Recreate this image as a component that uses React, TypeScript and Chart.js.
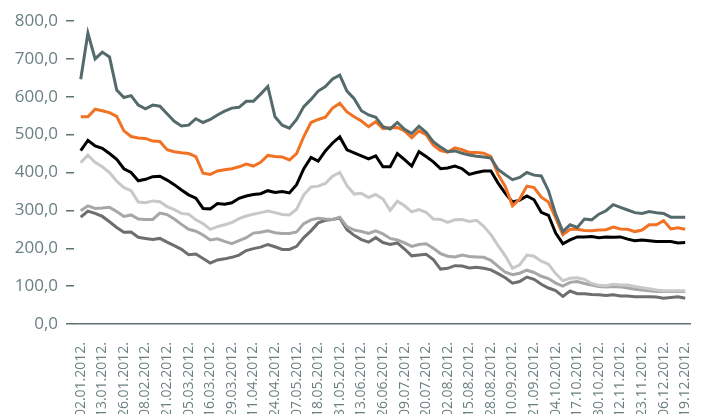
import React, { useEffect, useRef } from "react";
import { Chart, registerables } from "chart.js";

Chart.register(...registerables);

// Tick labels every 9 business days
const tickLabels = [
  "02.01.2012.", "13.01.2012.", "26.01.2012.", "08.02.2012.", "21.02.2012.",
  "05.03.2012.", "16.03.2012.", "29.03.2012.", "11.04.2012.", "24.04.2012.",
  "07.05.2012.", "18.05.2012.", "31.05.2012.", "13.06.2012.", "26.06.2012.",
  "09.07.2012.", "20.07.2012.", "02.08.2012.", "15.08.2012.", "28.08.2012.",
  "10.09.2012.", "21.09.2012.", "04.10.2012.", "17.10.2012.", "30.10.2012.",
  "12.11.2012.", "23.11.2012.", "06.12.2012.", "19.12.2012.",
];
const DAYS_PER_TICK = 9;
// One sample every 3 business days
const DAYS_PER_SAMPLE = 3;

const seriesSlate = [
  646, 768, 700, 718, 705, 618, 598, 603, 578, 568,
  578, 575, 555, 535, 523, 525, 542, 532, 540, 552,
  562, 570, 572, 588, 588, 607, 627, 547, 525, 517,
  540, 574, 593, 615, 627, 647, 657, 615, 595, 563,
  552, 546, 521, 515, 532, 514, 503, 522, 506, 481,
  467, 455, 457, 451, 446, 443, 441, 438, 408, 394,
  381, 387, 400, 393, 391, 352, 290, 244, 262, 255,
  277, 275, 290, 299, 315, 308, 301, 294, 292, 297,
  294, 292, 282, 282, 282,
];
const seriesOrange = [
  547, 547, 567, 563, 558, 548, 510, 495, 491, 490,
  483, 482, 460, 455, 452, 450, 442, 398, 395, 404,
  407, 410, 415, 422, 417, 427, 445, 442, 441, 433,
  450, 495, 532, 540, 546, 570, 583, 560, 547, 536,
  521, 534, 516, 518, 519, 510, 492, 510, 500, 472,
  458, 454, 465, 460, 453, 453, 451, 442, 395, 363,
  312, 330, 364, 360, 335, 322, 280, 236, 250, 250,
  247, 246, 248, 249, 256, 251, 250, 244, 248, 262,
  262, 273, 251, 254, 250,
];
const seriesBlack = [
  458, 485, 470, 464, 450, 435, 410, 400, 378, 382,
  389, 390, 380, 368, 354, 341, 332, 305, 304, 318,
  316, 320, 332, 338, 342, 344, 352, 347, 350, 346,
  368, 410, 440, 430, 457, 478, 494, 460, 452, 444,
  436, 444, 415, 415, 450, 434, 417, 455, 442, 428,
  410, 412, 417, 410, 395, 400, 404, 404, 372, 345,
  322, 327, 338, 328, 295, 287, 240, 212, 222, 230,
  230, 231, 228, 230, 229, 230, 224, 220, 222, 220,
  218, 218, 218, 214, 215,
];
const seriesLightGray = [
  426, 446, 427, 415, 400, 377, 360, 352, 322, 320,
  325, 323, 310, 302, 292, 290, 275, 265, 250, 257,
  262, 268, 278, 285, 290, 294, 298, 294, 289, 288,
  303, 341, 362, 364, 371, 390, 400, 365, 343, 345,
  334, 342, 330, 300, 324, 312, 296, 302, 295, 277,
  276, 268, 275, 276, 271, 274, 258, 236, 207, 180,
  147, 156, 182, 179, 166, 158, 133, 114, 121, 122,
  118, 107, 102, 101, 105, 103, 103, 99, 96, 93,
  90, 88, 88, 88, 88,
];
const seriesMidGray = [
  299, 312, 305, 306, 308, 297, 284, 288, 277, 276,
  276, 293, 289, 277, 263, 250, 245, 235, 222, 225,
  218, 212, 220, 228, 240, 242, 246, 241, 239, 239,
  243, 265, 275, 279, 277, 276, 282, 257, 248, 244,
  239, 246, 238, 226, 222, 214, 205, 210, 212, 200,
  186, 179, 177, 182, 178, 177, 176, 168, 152, 137,
  130, 134, 142, 136, 126, 120, 108, 100, 110, 112,
  107, 103, 99, 98, 99, 98, 95, 92, 90, 88,
  86, 86, 86, 86, 86,
];
const seriesDarkGray = [
  282, 298, 292, 284, 270, 255, 242, 243, 229, 226,
  223, 226, 216, 207, 197, 183, 185, 173, 161, 169,
  172, 176, 182, 194, 199, 203, 210, 204, 197, 197,
  205, 228, 246, 267, 274, 276, 280, 249, 234, 223,
  216, 228, 215, 210, 214, 198, 180, 182, 184, 170,
  145, 147, 154, 153, 148, 150, 147, 143, 133, 122,
  108, 112, 124, 118, 105, 95, 88, 73, 87, 80,
  80, 78, 77, 75, 77, 74, 74, 72, 72, 72,
  71, 68, 70, 72, 68,
];

const AXIS_COLOR = "#5e7374";
const LABEL_COLOR = "#6a7f80";

const toPoints = (values: number[]) =>
  values.map((v, i) => ({ x: i * DAYS_PER_SAMPLE, y: v }));

export default function App() {
  const canvasRef = useRef<HTMLCanvasElement | null>(null);

  useEffect(() => {
    if (!canvasRef.current) return;
    const mk = (data: number[], color: string) => ({
      data: toPoints(data),
      borderColor: color,
      backgroundColor: color,
      borderWidth: 3,
      pointRadius: 0,
      pointHoverRadius: 0,
      tension: 0,
      fill: false,
    });
    const chart = new Chart(canvasRef.current, {
      type: "line",
      data: {
        datasets: [
          mk(seriesSlate, "#546a6b"),
          mk(seriesOrange, "#f27224"),
          mk(seriesBlack, "#000000"),
          mk(seriesLightGray, "#c8c8c8"),
          mk(seriesMidGray, "#a6a7a9"),
          mk(seriesDarkGray, "#6d6e70"),
        ],
      },
      options: {
        responsive: false,
        animation: false,
        layout: { padding: { top: 21, left: 0, right: 1, bottom: 0 } },
        plugins: {
          legend: { display: false },
          tooltip: { enabled: false },
        },
        scales: {
          x: {
            type: "linear",
            min: -2.8,
            max: 254.4,
            grid: { display: false },
            border: { display: true, color: AXIS_COLOR, width: 1.5 },
            afterBuildTicks: (scale: any) => {
              scale.ticks = tickLabels.map((_, i) => ({ value: i * DAYS_PER_TICK }));
            },
            afterFit: (scale: any) => {
              scale.height = 90;
            },
            ticks: {
              autoSkip: false,
              maxRotation: 90,
              minRotation: 90,
              padding: 10,
              color: LABEL_COLOR,
              font: { family: "'Open Sans', sans-serif", size: 14 },
              callback: (value: any) => {
                const idx = Math.round(Number(value) / DAYS_PER_TICK);
                return tickLabels[idx] ?? "";
              },
            },
          },
          y: {
            min: 0,
            max: 800,
            grid: {
              display: true,
              drawOnChartArea: false,
              drawTicks: true,
              tickLength: 8,
              color: AXIS_COLOR,
              lineWidth: 1.5,
            },
            border: { display: false },
            afterFit: (scale: any) => {
              scale.width = 74;
            },
            ticks: {
              stepSize: 100,
              padding: 8,
              color: LABEL_COLOR,
              font: { family: "'Open Sans', sans-serif", size: 17 },
              callback: (value: any) => Number(value).toFixed(1).replace(".", ","),
            },
          },
        },
      },
    } as any);
    return () => chart.destroy();
  }, []);

  return (
    <div style={{ position: "absolute", left: 0, top: 0, width: 712, height: 414, background: "#ffffff" }}>
      <canvas ref={canvasRef} width={712} height={414} style={{ display: "block" }} />
    </div>
  );
}
